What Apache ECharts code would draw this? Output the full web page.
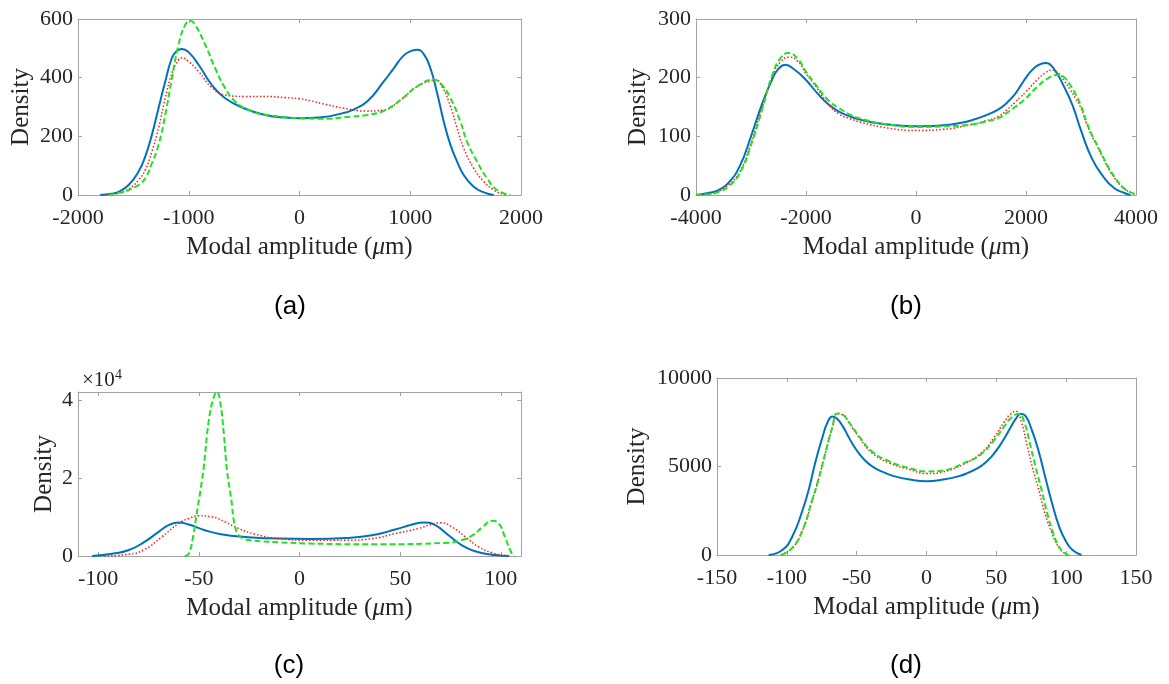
<!DOCTYPE html>
<html><head><meta charset="utf-8">
<script src="https://cdn.jsdelivr.net/npm/echarts@6/dist/echarts.min.js"></script>
<style>html,body{margin:0;padding:0;background:#fff}#c{width:1169px;height:684px}</style>
</head><body><div id="c"></div>
<script>
// ---------- data ----------
// Panel (a)
const aBlue = [[-1800,0],[-1700,4],[-1634,11],[-1543,34],[-1453,80],[-1393,131],[-1333,205],[-1273,296],[-1212,387],[-1152,467],[-1107,492],[-1062,498],[-1002,487],[-911,444],[-791,375],[-671,330],[-490,294],[-310,273],[-129,264],[0,262],[200,265],[400,280],[460,287],[611,319],[761,387],[851,432],[942,476],[1017,492],[1062,495],[1122,480],[1182,432],[1243,347],[1303,250],[1363,171],[1423,114],[1483,68],[1573,28],[1664,9],[1754,0]];
const aRed = [[-1750,0],[-1634,6],[-1543,20],[-1453,51],[-1393,85],[-1333,148],[-1273,228],[-1212,330],[-1152,415],[-1092,461],[-1062,467],[-1002,455],[-911,421],[-791,366],[-671,341],[-490,336],[-310,336],[-129,332],[0,328],[100,321],[200,312],[400,296],[600,286],[761,290],[912,324],[1062,370],[1182,389],[1227,393],[1287,370],[1363,302],[1423,228],[1483,159],[1573,91],[1664,46],[1754,17],[1844,2],[1880,0]];
const aGreen = [[-1724,0],[-1620,8],[-1543,17],[-1453,34],[-1393,57],[-1333,108],[-1273,171],[-1212,273],[-1152,398],[-1092,512],[-1032,580],[-987,594],[-942,580],[-851,512],[-761,432],[-671,364],[-581,319],[-430,285],[-250,271],[0,262],[200,260],[460,267],[611,273],[761,287],[912,324],[1062,370],[1212,393],[1272,381],[1363,330],[1453,250],[1513,182],[1603,114],[1694,57],[1784,17],[1904,0]];
// Panel (b)
const bBlue = [[-4000,0],[-3800,3],[-3600,8],[-3400,22],[-3200,50],[-3000,100],[-2800,155],[-2600,200],[-2500,215],[-2380,222],[-2200,213],[-2000,196],[-1800,174],[-1600,155],[-1400,142],[-1200,134],[-1000,128],[-750,123],[-500,120],[-250,118],[0,117],[250,117.5],[500,119],[750,122],[1000,127],[1250,135],[1500,146],[1650,157],[1800,172],[1900,186],[2000,200],[2100,212],[2200,220],[2350,225],[2500,216],[2700,183],[2850,152],[3000,110],[3200,62],[3400,32],[3600,12],[3800,3],[3900,0]];
const bRed = [[-4000,0],[-3800,2],[-3600,6],[-3400,18],[-3200,40],[-3000,88],[-2800,148],[-2600,205],[-2450,228],[-2300,235],[-2150,228],[-2000,207],[-1800,182],[-1600,155],[-1400,138],[-1200,130],[-1000,124],[-500,114],[0,110],[500,112],[1000,120],[1250,126],[1500,134],[1650,145],[1800,158],[1900,167],[2000,176],[2200,196],[2350,208],[2470,213],[2600,207],[2700,194],[2800,180],[2900,165],[3000,148],[3100,122],[3200,100],[3300,82],[3400,63],[3500,45],[3600,30],[3800,10],[4000,1]];
const bGreen = [[-4000,0],[-3800,1],[-3600,5],[-3400,15],[-3200,38],[-3000,85],[-2800,145],[-2600,208],[-2450,235],[-2320,242],[-2150,232],[-2000,210],[-1800,185],[-1600,162],[-1400,148],[-1200,137],[-1000,130],[-500,120],[0,116],[500,117],[1000,120],[1250,125],[1500,131],[1650,140],[1800,150],[1900,157],[2000,165],[2200,184],[2400,199],[2600,205],[2700,200],[2800,188],[2900,172],[3000,152],[3100,125],[3200,102],[3300,84],[3400,65],[3500,47],[3600,32],[3800,10],[4000,1]];
// Panel (c)
const cBlue = [[-103,0],[-93,600],[-85,1465],[-77,3620],[-70,6200],[-65,7930],[-60,8620],[-55,8100],[-47,6640],[-39,5600],[-27,4910],[-10,4480],[6,4400],[23,4650],[36,5340],[47.5,6810],[56,8100],[61.6,8620],[67.4,7930],[74,5340],[80.7,2760],[87.3,1210],[94,430],[100.6,86],[104,0]];
const cRed = [[-97,0],[-85,430],[-77,1640],[-68.4,4910],[-60,8360],[-55,9650],[-50,10340],[-43.6,10090],[-37,8790],[-30.3,7070],[-22,5600],[-10.4,4480],[6,4050],[22.7,4050],[36,4480],[47.5,5780],[59,7070],[65.8,8190],[70,8530],[75.7,7500],[82.4,4910],[89,2330],[95.6,860],[102,170],[105,0]];
const cGreen = [[-57,0],[-55,600],[-53,4500],[-51,11000],[-49,17500],[-47.5,23000],[-45,35000],[-42.5,41000],[-41,42200],[-39.5,40000],[-37.5,31000],[-36,22000],[-34,15000],[-32,7500],[-30,5200],[-28,4500],[-25,4100],[-19,3800],[-10,3530],[6,3190],[40,3020],[72,3360],[80,4000],[86,5350],[91,7500],[95.6,9050],[99,8360],[102,4900],[105.5,600],[107,0]];
// Panel (d)
const dBlue = [[-113,0],[-103,300],[-96,1060],[-89,2470],[-84,3790],[-79.4,5300],[-74.6,6620],[-71,7470],[-67.4,7830],[-64,7700],[-60,7280],[-56,6700],[-52,6150],[-48,5700],[-44,5340],[-40,5070],[-36,4870],[-30,4650],[-24,4470],[-12,4265],[0,4170],[12,4265],[24,4470],[30,4650],[36,4880],[40,5080],[44,5350],[48,5700],[52,6120],[56,6630],[60,7180],[64,7700],[67.5,7980],[71,7850],[75,7150],[80,5950],[85,4400],[90,2900],[95,1600],[100,750],[105,250],[111,0]];
const dRed = [[-104.5,0],[-96,400],[-89,1340],[-82,3040],[-77,4360],[-72,5870],[-67.4,7190],[-64,7980],[-60,7920],[-55.5,7470],[-48,6620],[-39,5770],[-27,5210],[-12,4830],[0,4600],[12,4700],[27,5150],[39,5750],[48,6600],[55.5,7500],[60,7950],[64,8120],[68,7500],[72,6200],[76,4900],[80,3800],[85,2300],[90,1200],[95,400],[100,40],[102,0]];
const dGreen = [[-104,0],[-96,420],[-89,1360],[-82,3060],[-77,4380],[-72,5900],[-67.4,7220],[-64,8000],[-60,7930],[-55.5,7500],[-48,6680],[-39,5850],[-27,5300],[-12,4900],[0,4720],[12,4780],[27,5200],[39,5700],[48,6450],[55.5,7250],[60,7700],[66,7980],[70,7500],[74,6300],[78,5000],[82,3800],[86,2500],[90,1400],[95,450],[100,50],[102,0]];

// axis ticks
const aXTicks = [-2000,-1000,0,1000,2000], aYTicks = [0,200,400,600];
const bXTicks = [-4000,-2000,0,2000,4000], bYTicks = [0,100,200,300];
const cXTicks = [-100,-50,0,50,100],      cYTicks = [0,20000,40000];
const dXTicks = [-150,-100,-50,0,50,100,150], dYTicks = [0,5000,10000];

const panelLabels = ['(a)','(b)','(c)','(d)'];
const xName = 'Modal amplitude ({mu|\u03bc}m)';
const yName = 'Density';

// ---------- layout / style ----------
const SERIF = 'Liberation Serif';
const TXT = '#262626';
const BOX = '#a3a3a3';
const grids = [
  {left:78, top:19, width:443, height:176},
  {left:696, top:19, width:440, height:176},
  {left:78, top:392, width:443, height:164},
  {left:717, top:378, width:419, height:177}
];
const xr = [[-2000,2000],[-4000,4000],[-110,110],[-150,150]];
const yr = [[0,600],[0,300],[0,42200],[0,10000]];
const xt = [aXTicks,bXTicks,cXTicks,dXTicks];
const yt = [aYTicks,bYTicks,cYTicks,dYTicks];
const yGap = [44,45,21,67];
const yFmt = [v=>String(v), v=>String(v), v=>String(v/10000), v=>String(v)];

const xAxis = [], yAxis = [];
grids.forEach((g,i)=>{
  const base = {type:'value', gridIndex:i, min:xr[i][0], max:xr[i][1], splitLine:{show:false},
    axisLine:{show:true, onZero:false, lineStyle:{color:BOX, width:1}},
    axisTick:{show:true, inside:true, length:4, customValues:xt[i], lineStyle:{color:BOX}}};
  xAxis.push(Object.assign({}, base, {position:'bottom',
    axisLabel:{show:true, customValues:xt[i], margin:12, color:TXT, fontFamily:SERIF, fontSize:22, formatter:v=>String(v)},
    name:xName, nameLocation:'middle', nameGap:40,
    nameTextStyle:{color:TXT, fontFamily:SERIF, fontSize:25,
      rich:{mu:{fontStyle:'italic', fontFamily:SERIF, fontSize:25, color:TXT}}}}));
  xAxis.push(Object.assign({}, base, {position:'top', axisLabel:{show:false}}));
  const ybase = {type:'value', gridIndex:i, min:yr[i][0], max:yr[i][1], splitLine:{show:false},
    axisLine:{show:true, onZero:false, lineStyle:{color:BOX, width:1}},
    axisTick:{show:true, inside:true, length:4, customValues:yt[i], lineStyle:{color:BOX}}};
  yAxis.push(Object.assign({}, ybase, {position:'left',
    axisLabel:{show:true, customValues:yt[i], margin:5, color:TXT, fontFamily:SERIF, fontSize:22, formatter:yFmt[i]},
    name:yName, nameLocation:'middle', nameGap:yGap[i],
    nameTextStyle:{color:TXT, fontFamily:SERIF, fontSize:25}}));
  yAxis.push(Object.assign({}, ybase, {position:'right', axisLabel:{show:false}}));
});

const sets = [[aBlue,aRed,aGreen],[bBlue,bRed,bGreen],[cBlue,cRed,cGreen],[dBlue,dRed,dGreen]];
const styles = [
  {color:'#0072BD', width:2, type:'solid'},
  {color:'#ff1a1a', width:1.5, type:[1.5,2]},
  {color:'#22e022', width:2, type:[6,3]}
];
const series = [];
sets.forEach((s,i)=>{
  s.forEach((d,k)=>{
    series.push({type:'line', xAxisIndex:2*i, yAxisIndex:2*i, data:d, showSymbol:false,
      smooth:0.5, lineStyle:styles[k], itemStyle:{color:styles[k].color}, z:2+k, silent:true});
  });
});

const labelPos = [[290,307],[906,307],[289,666],[906,666]];
const graphic = panelLabels.map((t,i)=>({type:'text', x:labelPos[i][0], y:labelPos[i][1],
  style:{text:t, fill:'#000', font:'26px "Liberation Sans"', textAlign:'center', textVerticalAlign:'middle'}}));
graphic.push({type:'text', x:82, y:380, style:{text:'\u00d710', fill:TXT, font:'21px "Liberation Serif"', textAlign:'left', textVerticalAlign:'middle'}});
graphic.push({type:'text', x:115, y:375, style:{text:'4', fill:TXT, font:'14px "Liberation Serif"', textAlign:'left', textVerticalAlign:'middle'}});

const chart = echarts.init(document.getElementById('c'), null, {renderer:'canvas'});
chart.setOption({
  animation:false,
  backgroundColor:'#fff',
  grid: grids.map(g=>Object.assign({outerBoundsMode:'none', containLabel:false}, g)),
  xAxis, yAxis, series, graphic
});
</script>
</body></html>
